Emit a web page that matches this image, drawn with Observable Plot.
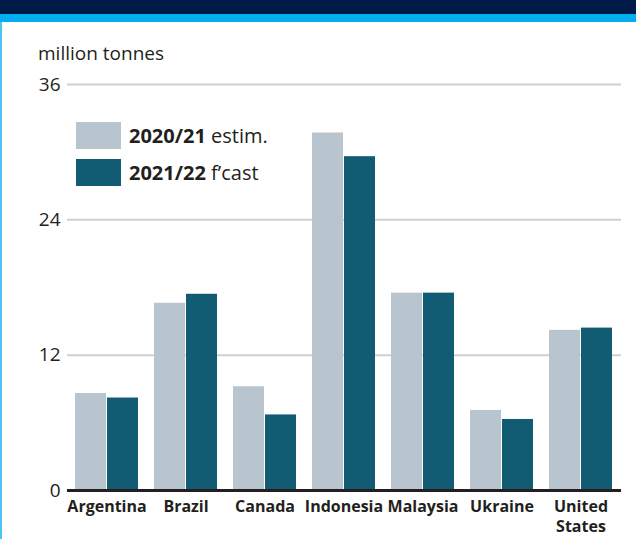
<!DOCTYPE html>
<html>
<head>
<meta charset="utf-8">
<script src="https://cdn.jsdelivr.net/npm/d3@7"></script>
<script src="https://cdn.jsdelivr.net/npm/@observablehq/plot@0.6"></script>
<style>
  html, body { margin: 0; padding: 0; background: #fff; }
  body { width: 636px; height: 539px; position: relative; overflow: hidden; font-family: "Open Sans", "Noto Sans", sans-serif; color: #231f20; }
  #hdr { position: absolute; left: 0; top: 0; width: 636px; height: 14px; background: #001a48; }
  #strip { position: absolute; left: 0; top: 14px; width: 636px; height: 8px; background: #00adee; }
  #lborder { position: absolute; left: 0; top: 22px; width: 2px; height: 517px; background: #4cc3f2; }
  #chart { position: absolute; left: 0; top: 0; }
  #unit { position: absolute; left: 38px; top: 43px; font-size: 19px; line-height: 20px; }
  .leg { position: absolute; left: 76px; display: flex; align-items: center; font-size: 20px; }
  .sw { width: 45px; height: 27px; margin-right: 8px; }
</style>
</head>
<body>
<div id="hdr"></div>
<div id="strip"></div>
<div id="lborder"></div>
<div id="chart"></div>
<div id="unit">million tonnes</div>
<div class="leg" style="top:122px"><div class="sw" style="background:#b8c5ce"></div><span><b>2020/21</b> estim.</span></div>
<div class="leg" style="top:159px"><div class="sw" style="background:#115b73"></div><span><b>2021/22</b> f’cast</span></div>
<script>
const countries = ["Argentina", "Brazil", "Canada", "Indonesia", "Malaysia", "Ukraine", "United States"];
const tickLabels = ["Argentina", "Brazil", "Canada", "Indonesia", "Malaysia", "Ukraine", "United\nStates"];
const est2020 = [8.6, 16.6, 9.2, 31.7, 17.5, 7.1, 14.2];
const fc2021 = [8.2, 17.4, 6.7, 29.6, 17.5, 6.3, 14.4];
const yTicks = [0, 12, 24, 36];
const gridTicks = [12, 24, 36];

const rows = countries.map((c, i) => ({country: c, label: tickLabels[i], a: est2020[i], b: fc2021[i]}));

const chart = Plot.plot({
  width: 636,
  height: 539,
  marginTop: 84,
  marginBottom: 49,
  marginLeft: 67,
  marginRight: 15,
  style: {fontFamily: "'Open Sans', 'Noto Sans', sans-serif", fontSize: "19px", color: "#231f20", background: "transparent"},
  x: {domain: countries, paddingInner: 0.2, paddingOuter: 0.1, axis: null},
  y: {domain: [0, 36], ticks: yTicks, tickSize: 0, tickPadding: 7, label: null, tickFormat: d => d},
  marks: [
    Plot.ruleY(gridTicks, {stroke: "#d0d0d0", strokeWidth: 2}),
    Plot.barY(rows, {x: "country", y: "a", fill: "#b8c5ce", insetRight: 32}),
    Plot.barY(rows, {x: "country", y: "b", fill: "#115b73", insetLeft: 32}),
    Plot.ruleY([0], {stroke: "#231f20", strokeWidth: 3}),
    Plot.text(rows, {x: "country", text: "label", frameAnchor: "bottom", lineAnchor: "top", dy: 7, lineHeight: 1.25, fontSize: 16, fontWeight: "bold", fill: "#231f20"})
  ]
});
document.getElementById("chart").appendChild(chart);
</script>
</body>
</html>
